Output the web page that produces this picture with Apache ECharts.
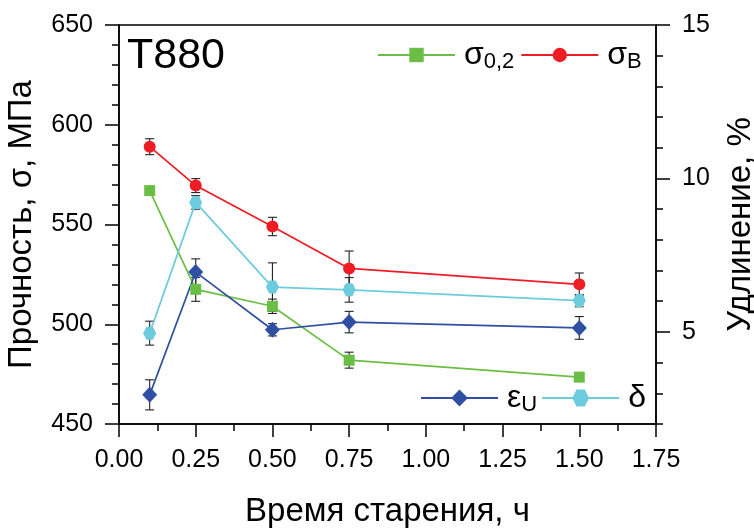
<!DOCTYPE html>
<html>
<head>
<meta charset="utf-8">
<script src="https://cdn.jsdelivr.net/npm/echarts@6/dist/echarts.min.js"></script>
<style>html,body{margin:0;padding:0;background:#fff}#c{width:754px;height:528px}</style>
</head>
<body>
<div id="c"></div>
<script>
// ---- data ----
var times = [0.1, 0.25, 0.5, 0.75, 1.5];
var sigma02 = [567, 517.5, 509, 482, 473.5];
var sigma02Err = [1.5, 6, 3.6, 4, 2];
var sigmaB = [589, 569.5, 549, 528, 520];
var sigmaBErr = [4, 3.5, 4.6, 8.7, 5.7];
var epsU = [2.95, 6.95, 5.07, 5.32, 5.13];
var epsUErr = [0.49, 0.43, 0.2, 0.35, 0.37];
var delta = [4.96, 9.22, 6.46, 6.37, 6.02];
var deltaErr = [0.39, 0.22, 0.79, 0.4, 0.2];
var rightMajor = [5, 10, 15];

var FONT = 'Liberation Sans';
var C_GREEN = '#6BBE45', C_RED = '#EE1C25', C_BLUE = '#2F4FA2', C_CYAN = '#6CCCDD';
var HEX = 'path://M0,5 L2.5,0.67 L7.5,0.67 L10,5 L7.5,9.33 L2.5,9.33 Z';

function pairs(xs, ys) { return xs.map(function (x, i) { return [x, ys[i]]; }); }
function errData(xs, ys, es) { return xs.map(function (x, i) { return [x, ys[i] - es[i], ys[i] + es[i]]; }); }

function errSeries(data, yIdx) {
  return {
    type: 'custom', yAxisIndex: yIdx, z: 1, silent: true,
    encode: { x: 0, y: [1, 2] },
    data: data,
    renderItem: function (params, api) {
      var x = api.value(0);
      var pLo = api.coord([x, api.value(1)]);
      var pHi = api.coord([x, api.value(2)]);
      var w = 4.5;
      var st = { stroke: '#222', lineWidth: 1.1 };
      return {
        type: 'group',
        children: [
          { type: 'line', shape: { x1: pLo[0], y1: pLo[1], x2: pHi[0], y2: pHi[1] }, style: st },
          { type: 'line', shape: { x1: pLo[0] - w, y1: pLo[1], x2: pLo[0] + w, y2: pLo[1] }, style: st },
          { type: 'line', shape: { x1: pHi[0] - w, y1: pHi[1], x2: pHi[0] + w, y2: pHi[1] }, style: st }
        ]
      };
    }
  };
}

function lineSeries(name, data, yIdx, color, symbol, size) {
  return {
    name: name, type: 'line', yAxisIndex: yIdx, z: 3,
    data: data, symbol: symbol, symbolSize: size, showSymbol: true,
    itemStyle: { color: color, borderWidth: 0 },
    lineStyle: { color: color, width: 1.7 },
    emphasis: { disabled: true }, animation: false
  };
}

var legendRich = {
  m: { fontFamily: FONT, fontSize: 32, color: '#000', padding: [0, 0, 0, 4] },
  s: { fontFamily: FONT, fontSize: 22, color: '#000', padding: [14, 0, 0, 0] }
};
var legendNames = { 'σ0,2': ['σ', '0,2'], 'σB': ['σ', 'B'], 'εU': ['ε', 'U'], 'δ': ['δ', ''] };
function legendFmt(name) {
  var p = legendNames[name];
  return '{m|' + p[0] + '}' + (p[1] ? '{s|' + p[1] + '}' : '');
}

var chart = echarts.init(document.getElementById('c'), null, { renderer: 'canvas' });
chart.setOption({
  animation: false,
  backgroundColor: '#fff',
  textStyle: { fontFamily: FONT },
  title: {
    text: 'T880', left: 122, top: 30,
    textStyle: { fontFamily: FONT, fontSize: 43, fontWeight: 'normal', color: '#000' }
  },
  grid: { left: 119, right: 98, top: 25, bottom: 104, containLabel: false, outerBoundsMode: 'none', show: true, borderColor: '#000', borderWidth: 1.5, backgroundColor: 'transparent' },
  legend: [
    {
      data: ['σ0,2', 'σB'], left: 372, top: 34, orient: 'horizontal',
      itemWidth: 77, itemHeight: 18, itemGap: 6,
      formatter: legendFmt, textStyle: { rich: legendRich }, selectedMode: false
    },
    {
      data: ['εU', 'δ'], left: 415, top: 377, orient: 'horizontal',
      itemWidth: 77, itemHeight: 21, itemGap: 4,
      formatter: legendFmt, textStyle: { rich: legendRich }, selectedMode: false
    }
  ],
  xAxis: {
    type: 'value', min: 0, max: 1.75, interval: 0.25,
    name: 'Время старения, ч', nameLocation: 'middle', nameGap: 71,
    nameTextStyle: { fontFamily: FONT, fontSize: 33, color: '#000' },
    axisLine: { show: true, lineStyle: { color: '#000', width: 1.5 } },
    axisTick: { show: true, length: 13, lineStyle: { color: '#000', width: 1.5 } },
    minorTick: { show: true, splitNumber: 2, length: 7, lineStyle: { color: '#000', width: 1.5 } },
    axisLabel: { fontFamily: FONT, fontSize: 25, color: '#000', margin: 24, formatter: function (v) { return v.toFixed(2); } },
    splitLine: { show: false }
  },
  yAxis: [
    {
      type: 'value', min: 450, max: 650, interval: 50, position: 'left',
      name: 'Прочность, σ, МПа', nameLocation: 'middle', nameGap: 81,
      nameTextStyle: { fontFamily: FONT, fontSize: 33, color: '#000' },
      axisLine: { show: true, lineStyle: { color: '#000', width: 1.5 } },
      axisTick: { show: true, length: 14, lineStyle: { color: '#000', width: 1.5 } },
      minorTick: { show: true, splitNumber: 5, length: 7, lineStyle: { color: '#000', width: 1.5 } },
      axisLabel: { fontFamily: FONT, fontSize: 25, color: '#000', margin: 26 },
      splitLine: { show: false }
    },
    {
      type: 'value', min: 2, max: 15, position: 'right',
      name: 'Удлинение, %', nameLocation: 'middle', nameGap: 68,
      nameTextStyle: { fontFamily: FONT, fontSize: 33, color: '#000' },
      axisLine: { show: true, lineStyle: { color: '#000', width: 1.5 } },
      axisTick: { show: true, length: 14, customValues: rightMajor, lineStyle: { color: '#000', width: 1.5 } },
      axisLabel: { fontFamily: FONT, fontSize: 25, color: '#000', margin: 26, customValues: rightMajor },
      splitLine: { show: false }
    },
    {
      type: 'value', min: 2, max: 15, interval: 1, position: 'right',
      axisLine: { show: false },
      axisTick: { show: true, length: 7, lineStyle: { color: '#000', width: 1.5 } },
      axisLabel: { show: false },
      splitLine: { show: false }
    }
  ],
  series: [
    errSeries(errData(times, sigma02, sigma02Err), 0),
    errSeries(errData(times, sigmaB, sigmaBErr), 0),
    errSeries(errData(times, epsU, epsUErr), 1),
    errSeries(errData(times, delta, deltaErr), 1),
    lineSeries('σ0,2', pairs(times, sigma02), 0, C_GREEN, 'rect', 11),
    lineSeries('σB', pairs(times, sigmaB), 0, C_RED, 'circle', 12),
    lineSeries('εU', pairs(times, epsU), 1, C_BLUE, 'diamond', [15, 16]),
    lineSeries('δ', pairs(times, delta), 1, C_CYAN, HEX, 13)
  ]
});
</script>
</body>
</html>
